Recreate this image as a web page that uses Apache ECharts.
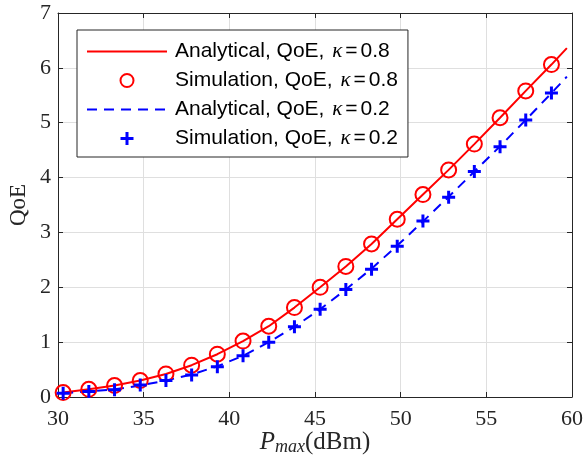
<!DOCTYPE html>
<html>
<head>
<meta charset="utf-8">
<script src="https://cdn.jsdelivr.net/npm/echarts@6/dist/echarts.min.js"></script>
<style>html,body{margin:0;padding:0;background:#fff;}#c{width:587px;height:460px;}</style>
</head>
<body>
<div id="c"></div>
<script>
// Data
const pmax = [30.3,31.8,33.3,34.8,36.3,37.8,39.3,40.8,42.3,43.8,45.3,46.8,48.3,49.8,51.3,52.8,54.3,55.8,57.3,58.8];
const pmaxLine = [30.3,31.8,33.3,34.8,36.3,37.8,39.3,40.8,42.3,43.8,45.3,46.8,48.3,49.8,51.3,52.8,54.3,55.8,57.3,58.8,59.7];
const simK08 = [0.08,0.14,0.21,0.30,0.42,0.58,0.78,1.02,1.29,1.63,2.00,2.38,2.79,3.24,3.69,4.14,4.61,5.09,5.58,6.06];
const simK02 = [0.07,0.10,0.13,0.22,0.30,0.40,0.55,0.75,1.00,1.28,1.60,1.96,2.33,2.75,3.21,3.64,4.11,4.56,5.05,5.54];
const anaK08 = [0.08,0.14,0.21,0.30,0.42,0.58,0.78,1.02,1.29,1.63,2.00,2.38,2.79,3.24,3.69,4.14,4.61,5.09,5.58,6.06,6.36];
const anaK02 = [0.07,0.10,0.14,0.21,0.30,0.41,0.56,0.75,1.00,1.28,1.60,1.96,2.34,2.76,3.20,3.65,4.11,4.57,5.05,5.54,5.84];
const xTicks = [30,35,40,45,50,55,60];
const yTicks = [0,1,2,3,4,5,6,7];
const names = ['Analytical, QoE, κ=0.8','Simulation, QoE, κ=0.8','Analytical, QoE, κ=0.2','Simulation, QoE, κ=0.2'];

const pair = (xs, ys) => ys.map((y, i) => [xs[i], y]);
const axisColor = '#262626';
const serif = 'Liberation Serif';
const plusPath = 'path://M5,0H8V5H13V8H8V13H5V8H0V5H5Z';

const chart = echarts.init(document.getElementById('c'), null, {renderer: 'canvas'});
const xCommon = {type: 'value', min: xTicks[0], max: xTicks[xTicks.length-1], interval: 5};
const yCommon = {type: 'value', min: yTicks[0], max: yTicks[yTicks.length-1], interval: 1};
const lineAx = {show: true, onZero: false, lineStyle: {color: axisColor, width: 1}};
const tickAx = {show: true, inside: true, length: 5, lineStyle: {color: axisColor}};
chart.setOption({
  animation: false,
  backgroundColor: '#fff',
  grid: {left: 58, right: 15, top: 13, bottom: 63, containLabel: false, outerBoundsMode: 'none'},
  xAxis: [
    Object.assign({}, xCommon, {
      position: 'bottom',
      axisLine: lineAx, axisTick: tickAx,
      axisLabel: {color: axisColor, fontFamily: serif, fontSize: 22, margin: 11},
      splitLine: {show: true, lineStyle: {color: '#dfdfdf', width: 1}},
      name: '{p|P}{s|max}{n|(dBm)}',
      nameLocation: 'middle',
      nameMoveOverlap: false,
      nameGap: 31,
      nameTextStyle: {
        rich: {
          p: {fontFamily: serif, fontStyle: 'italic', fontSize: 25, color: axisColor},
          s: {fontFamily: serif, fontStyle: 'italic', fontSize: 18, color: axisColor, verticalAlign: 'bottom', padding: [10,0,0,0]},
          n: {fontFamily: serif, fontSize: 25, color: axisColor}
        }
      }
    }),
    Object.assign({}, xCommon, {
      position: 'top',
      axisLine: lineAx, axisTick: tickAx,
      axisLabel: {show: false},
      splitLine: {show: false}
    })
  ],
  yAxis: [
    Object.assign({}, yCommon, {
      position: 'left',
      axisLine: lineAx, axisTick: tickAx,
      axisLabel: {color: axisColor, fontFamily: serif, fontSize: 22, margin: 7},
      splitLine: {show: true, lineStyle: {color: '#dfdfdf', width: 1}},
      name: 'QoE',
      nameLocation: 'middle',
      nameMoveOverlap: false,
      nameGap: 28,
      nameTextStyle: {fontFamily: serif, fontSize: 23, color: axisColor}
    }),
    Object.assign({}, yCommon, {
      position: 'right',
      axisLine: lineAx, axisTick: tickAx,
      axisLabel: {show: false},
      splitLine: {show: false}
    })
  ],
  legend: {
    orient: 'vertical',
    left: 77,
    top: 30,
    data: names,
    backgroundColor: '#fff',
    borderColor: axisColor,
    borderWidth: 1,
    borderRadius: 0,
    padding: [11, 10, 8, 9],
    itemWidth: 80,
    itemHeight: 13,
    itemGap: 8,
    formatter: n => n.replace('κ=', '{k|κ}{e|=}'),
    textStyle: {
      fontFamily: 'Liberation Sans',
      fontSize: 21,
      lineHeight: 21,
      color: '#000',
      padding: [0, 0, 0, 3],
      rich: {
        k: {fontFamily: serif, fontStyle: 'italic', fontSize: 21, lineHeight: 21, color: '#000', padding: [0, 0, 0, 2]},
        e: {fontFamily: 'Liberation Sans', fontSize: 21, lineHeight: 21, color: '#000', padding: [0, 3, 0, 3]}
      }
    }
  },
  series: [
    {
      name: names[0], type: 'line', data: pair(pmaxLine, anaK08),
      symbol: 'none', lineStyle: {color: '#ff0000', width: 2, type: 'solid'},
      itemStyle: {color: 'rgba(0,0,0,0)', borderWidth: 0}, z: 2
    },
    {
      name: names[1], type: 'scatter', data: pair(pmax, simK08),
      symbol: 'circle', symbolSize: 15,
      itemStyle: {color: 'rgba(0,0,0,0)', borderColor: '#ff0000', borderWidth: 2, opacity: 1}, z: 3
    },
    {
      name: names[2], type: 'line', data: pair(pmaxLine, anaK02),
      symbol: 'none', lineStyle: {color: '#0000ff', width: 2, type: [10, 7]},
      itemStyle: {color: 'rgba(0,0,0,0)', borderWidth: 0}, z: 2
    },
    {
      name: names[3], type: 'scatter', data: pair(pmax, simK02),
      symbol: plusPath, symbolSize: 13,
      itemStyle: {color: '#0000ff', opacity: 1}, z: 3
    }
  ]
});
</script>
</body>
</html>
